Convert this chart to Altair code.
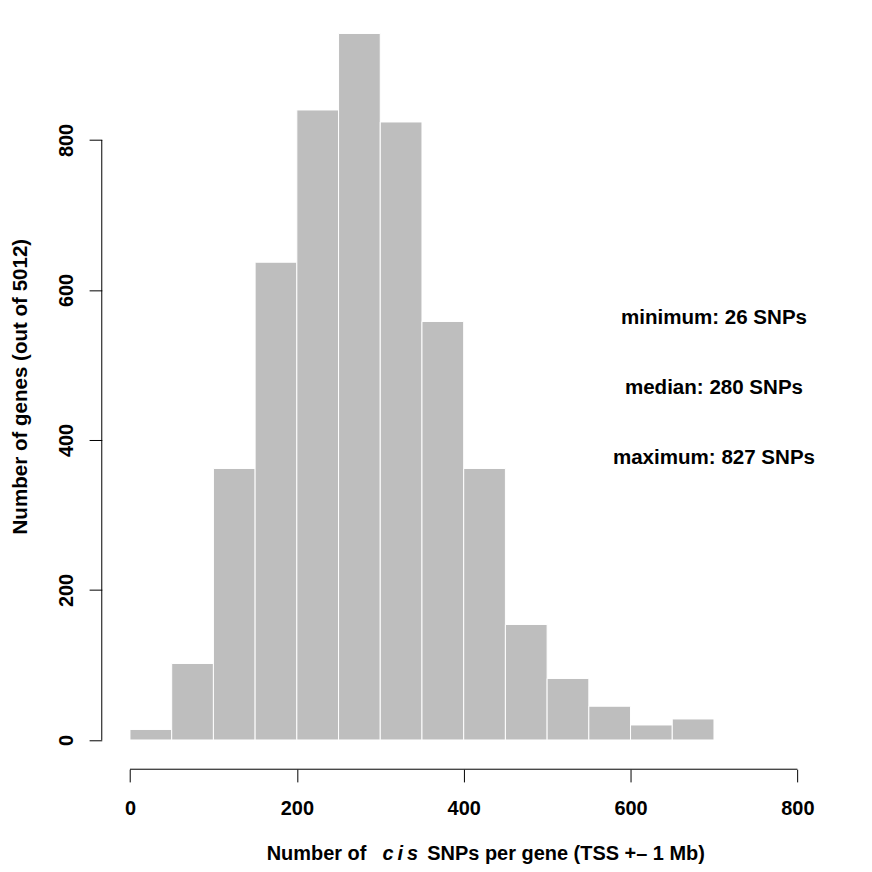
import altair as alt
import pandas as pd

# ---- data ----
bin_start = [0, 50, 100, 150, 200, 250, 300, 350, 400, 450, 500, 550, 600, 650]
bin_end = [50, 100, 150, 200, 250, 300, 350, 400, 450, 500, 550, 600, 650, 700]
counts = [14, 102, 362, 637, 840, 942, 824, 558, 362, 154, 82, 45, 20, 28]
tick_values = [0, 200, 400, 600, 800]
ann_text = ["minimum: 26 SNPs", "median: 280 SNPs", "maximum: 827 SNPs"]
ann_x = [700, 700, 700]
ann_y = [555, 461, 368]

FONT = "Liberation Sans"
FS = 20.6
FS_TICK = 20
W, H = 724, 751

df = pd.DataFrame({"start": bin_start, "end": bin_end, "count": counts})
df["zero"] = 0
ann = pd.DataFrame({"t": ann_text, "x": ann_x, "y": ann_y})
xline = pd.DataFrame({"a": [tick_values[0]], "b": [tick_values[-1]]})
yline = pd.DataFrame({"a": [tick_values[0]], "b": [tick_values[-1]]})

xs = alt.Scale(domain=[-33.8, 832], nice=False, zero=False)
ys = alt.Scale(domain=[-39, 960], nice=False, zero=False)

common_axis = dict(
    values=tick_values, domain=False, grid=False, tickSize=12.7, tickColor="black",
    tickWidth=1, labelFont=FONT, labelFontSize=FS_TICK, labelFontWeight="bold",
    labelColor="black", labelFlush=False, labelOverlap=False,
)

bars = alt.Chart(df).mark_rect(fill="#BEBEBE", stroke="white", strokeWidth=1).encode(
    x=alt.X("start:Q", scale=xs, axis=alt.Axis(
        title=None, labelBaseline="alphabetic", labelPadding=32.8, labelAlign="center",
        **common_axis)),
    x2="end:Q",
    y=alt.Y("zero:Q", scale=ys, axis=alt.Axis(
        title="Number of genes (out of 5012)", titleFont=FONT, titleFontSize=FS,
        titleFontWeight="bold", titleColor="black", titleAngle=270,
        titleX=-75, titleY=367, titleAlign="center", titleBaseline="alphabetic",
        labelAngle=270, labelAlign="center", labelBaseline="alphabetic",
        labelPadding=16.9, **common_axis)),
    y2="count:Q",
)

xaxis_line = alt.Chart(xline).mark_rule(color="black", strokeWidth=1).encode(
    x=alt.X("a:Q", scale=xs), x2="b:Q", y=alt.value(H)
)
yaxis_line = alt.Chart(yline).mark_rule(color="black", strokeWidth=1).encode(
    y=alt.Y("a:Q", scale=ys), y2="b:Q", x=alt.value(0)
)

annotations = alt.Chart(ann).mark_text(
    font=FONT, fontSize=FS, fontWeight="bold", color="black",
    align="center", baseline="alphabetic"
).encode(
    x=alt.X("x:Q", scale=xs), y=alt.Y("y:Q", scale=ys), text="t:N"
)

def title_piece(txt, px, italic=False):
    return alt.Chart(pd.DataFrame({"t": [txt]})).mark_text(
        font=FONT, fontSize=FS_TICK, fontWeight="bold", color="black",
        fontStyle="italic" if italic else "normal",
        align="left", baseline="alphabetic"
    ).encode(x=alt.value(px), y=alt.value(842), text="t:N")

t1 = title_piece("Number of", 165.3)
t2 = title_piece("c\u2009i\u2009s", 281.3, italic=True)
t3 = title_piece("SNPs per gene (TSS +\u2013 1 Mb)", 326.3)

chart = alt.layer(bars, xaxis_line, yaxis_line, annotations, t1, t2, t3).properties(
    width=W, height=H,
    autosize=alt.AutoSizeParams(type="none"),
    padding={"left": 94, "top": 11, "right": 40, "bottom": 100},
    background="white",
).configure_view(stroke=None)

chart.save("out.html", embed_options={"renderer": "svg", "actions": False})
